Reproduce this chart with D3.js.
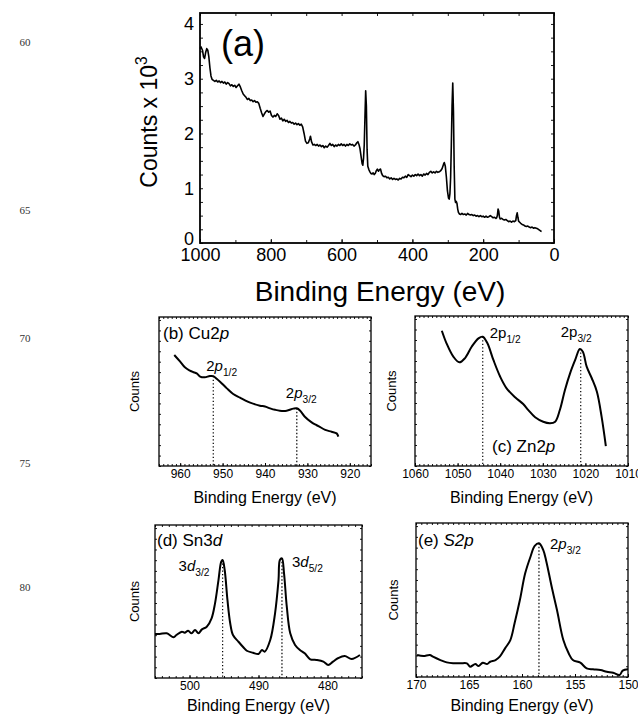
<!DOCTYPE html>
<html>
<head>
<meta charset="utf-8">
<script src="https://cdn.jsdelivr.net/npm/d3@7"></script>
<style>
  body { margin: 0; background: #fff; }
  svg { display: block; }
  text { font-family: "Liberation Sans", Arial, Helvetica, sans-serif; fill: #000; }
  .ln { font-family: "Liberation Serif", "Times New Roman", serif; fill: #333; }
</style>
</head>
<body>
<svg id="fig" width="638" height="718"></svg>
<script>
// ---- (a) survey spectrum: [binding energy (eV), counts x 10^3] ----
const surveyData = [
  [1000,3.55],[997,3.58],[993,3.52],[990,3.40],[987,3.37],[984,3.48],[981,3.55],[978,3.52],[975,3.40],
  [972,3.20],[969,3.05],[966,2.99],[962,2.97],[958,2.95],[954,2.97],[950,2.94],[946,2.96],[942,2.93],
  [938,2.95],[934,2.92],[930,2.94],[926,2.90],[922,2.93],[918,2.91],[914,2.87],[910,2.89],[906,2.86],
  [902,2.88],[898,2.84],[894,2.87],[890,2.90],[886,2.85],[882,2.78],[878,2.72],[874,2.69],[870,2.66],
  [866,2.62],[862,2.64],[858,2.60],[854,2.61],[850,2.58],[846,2.60],[842,2.57],[838,2.58],[834,2.55],
  [830,2.46],[826,2.38],[822,2.31],[818,2.36],[814,2.40],[810,2.42],[806,2.39],[802,2.41],[798,2.33],
  [794,2.30],[790,2.33],[786,2.31],[782,2.36],[778,2.33],[774,2.26],[770,2.28],[766,2.23],[762,2.26],
  [758,2.22],[754,2.24],[750,2.20],[746,2.22],[742,2.19],[738,2.20],[734,2.17],[730,2.19],[726,2.16],
  [722,2.18],[718,2.15],[714,2.17],[710,2.12],[706,2.00],[702,1.86],[698,1.82],[694,1.83],[690,1.90],
  [688,1.95],[685,1.85],[681,1.79],[677,1.80],[673,1.78],[669,1.80],[665,1.77],[661,1.79],[657,1.76],
  [653,1.78],[649,1.74],[645,1.77],[641,1.75],[637,1.78],[633,1.82],[629,1.78],[625,1.80],[621,1.76],
  [617,1.79],[613,1.77],[609,1.80],[605,1.78],[601,1.81],[597,1.78],[593,1.80],[589,1.77],[585,1.80],
  [581,1.78],[577,1.81],[573,1.79],[569,1.80],[565,1.77],[561,1.79],[557,1.83],[554,1.85],[551,1.80],
  [548,1.72],[545,1.58],[542,1.45],[540,1.42],[538,1.55],[536,1.80],[534,2.30],[532,2.78],[530,2.50],
  [528,1.70],[526,1.40],[523,1.34],[520,1.30],[517,1.27],[514,1.26],[511,1.28],[508,1.25],[505,1.27],
  [502,1.32],[499,1.35],[496,1.31],[493,1.34],[490,1.35],[487,1.27],[484,1.23],[480,1.21],[476,1.22],
  [472,1.19],[468,1.20],[464,1.17],[460,1.19],[456,1.16],[452,1.18],[448,1.16],[444,1.17],[440,1.15],
  [436,1.18],[432,1.17],[428,1.20],[424,1.19],[420,1.22],[416,1.20],[412,1.25],[408,1.23],[404,1.21],
  [400,1.24],[396,1.22],[392,1.25],[388,1.23],[384,1.26],[380,1.23],[376,1.25],[372,1.22],[368,1.26],
  [364,1.24],[360,1.27],[356,1.25],[352,1.29],[348,1.31],[344,1.28],[340,1.30],[336,1.28],[332,1.31],
  [328,1.29],[324,1.30],[320,1.32],[316,1.36],[312,1.44],[310,1.47],[307,1.40],[304,1.20],[301,0.95],
  [298,0.82],[296,0.80],[294,0.90],[292,1.20],[290,1.80],[288,2.50],[286,2.92],[284,2.40],[282,1.40],
  [280,0.80],[278,0.74],[276,0.76],[274,0.72],[272,0.62],[270,0.56],[267,0.53],[264,0.52],[260,0.54],
  [256,0.52],[252,0.53],[248,0.51],[244,0.54],[240,0.52],[236,0.51],[232,0.52],[228,0.50],[224,0.51],
  [220,0.49],[216,0.50],[212,0.48],[208,0.50],[204,0.48],[200,0.49],[196,0.47],[192,0.49],[188,0.47],
  [184,0.48],[180,0.50],[176,0.48],[172,0.46],[168,0.47],[164,0.45],[162,0.46],[160,0.50],[158,0.62],
  [156,0.58],[154,0.47],[152,0.44],[148,0.45],[144,0.43],[140,0.42],[136,0.43],[132,0.41],[128,0.39],
  [124,0.40],[120,0.38],[116,0.40],[112,0.39],[108,0.41],[106,0.50],[104,0.55],[102,0.47],[100,0.40],
  [97,0.38],[94,0.36],[90,0.34],[86,0.33],[82,0.31],[78,0.30],[74,0.31],[70,0.29],[66,0.28],[62,0.29],
  [58,0.27],[54,0.28],[50,0.27],[46,0.26],[42,0.24],[38,0.22],[35,0.21]
];
const surveyXTicks = [1000, 800, 600, 400, 200, 0];
const surveyYTicks = [0, 1, 2, 3, 4];

// ---- (b) Cu 2p: [binding energy (eV), counts (arb.)] ----
const cuData = [
  [961.4,74.5],[960.0,70.0],[958.9,66.2],[957.7,64.0],[957.0,63.1],[956.1,62.2],[955.3,60.0],[954.2,59.5],
  [953.0,60.4],[952.2,60.3],[951.4,58.6],[950.6,56.6],[949.0,52.1],[947.5,48.3],[945.9,45.9],[944.7,44.1],
  [943.5,42.5],[941.2,40.5],[940.0,39.9],[938.8,38.7],[937.6,37.7],[936.5,37.1],[934.9,37.1],[933.3,38.5],
  [932.5,38.7],[931.7,37.1],[930.6,33.1],[929.0,29.3],[928.2,27.9],[927.4,26.8],[925.8,24.2],[924.3,23.0],
  [923.1,21.9],[922.7,19.7]
];
const cuXTicks = [960, 950, 940, 930, 920];
const cuPeaks = [
  { be: 952.2, counts: 60.3, base: "2p", sub: "1/2" },
  { be: 932.5, counts: 38.7, base: "2p", sub: "3/2" }
];

// ---- (c) Zn 2p ----
const znData = [
  [1053.7,90.2],[1052.6,81.8],[1051.0,72.9],[1049.6,69.1],[1048.3,71.8],[1046.7,79.5],[1045.1,85.1],
  [1044.1,86.2],[1043.0,81.8],[1041.6,70.7],[1040.0,59.5],[1038.5,51.8],[1036.5,45.8],[1034.6,41.3],
  [1033.4,37.3],[1031.8,32.5],[1029.9,29.5],[1028.3,28.5],[1027.1,29.5],[1026.0,37.3],[1024.8,50.7],
  [1023.6,61.8],[1022.4,70.7],[1021.3,78.0],[1020.6,76.2],[1019.7,66.2],[1018.5,58.5],[1017.3,49.5],
  [1016.2,32.9],[1015.2,13.3]
];
const znXTicks = [1060, 1050, 1040, 1030, 1020, 1010];
const znPeaks = [
  { be: 1044.1, counts: 86.2, base: "2p", sub: "1/2" },
  { be: 1021.1, counts: 78.0, base: "2p", sub: "3/2" }
];

// ---- (d) Sn 3d ----
const snData = [
  [505.0,28.8],[504.3,28.8],[503.3,29.2],[502.3,26.6],[501.9,28.1],[501.1,30.3],[500.7,29.6],[500.2,30.9],
  [499.7,29.2],[499.2,31.4],[498.7,29.2],[498.2,31.8],[497.5,33.5],[496.8,39.0],[496.3,48.8],[495.8,64.0],
  [495.4,76.0],[495.2,77.1],[494.9,70.6],[494.5,51.0],[494.1,35.8],[493.7,28.1],[492.9,23.7],[492.2,20.1],
  [491.7,17.8],[490.8,16.5],[490.0,15.7],[489.5,18.3],[489.1,17.2],[488.3,24.8],[487.6,42.3],[487.1,64.0],
  [486.9,77.1],[486.6,78.2],[486.3,68.4],[485.9,46.6],[485.4,29.2],[484.7,21.6],[484.0,18.3],[483.3,16.1],
  [482.5,12.2],[481.6,11.8],[480.6,10.7],[479.9,8.5],[479.2,10.7],[478.5,12.9],[477.5,14.4],[476.5,12.4],
  [475.3,15.0]
];
const snXTicks = [500, 490, 480];
const snPeaks = [
  { be: 495.2, counts: 77.1, base: "3d", sub: "3/2" },
  { be: 486.6, counts: 78.2, base: "3d", sub: "5/2" }
];

// ---- (e) S 2p ----
const sData = [
  [169.9,14.3],[169.3,13.6],[168.7,14.3],[168.4,13.2],[167.7,11.0],[167.1,9.5],[166.5,8.9],[165.8,8.9],
  [165.2,8.9],[164.9,6.7],[164.4,8.4],[164.1,7.1],[163.7,9.3],[163.3,8.4],[163.0,9.9],[162.5,11.0],
  [162.1,13.2],[161.6,18.6],[161.1,24.0],[160.7,34.9],[160.2,50.0],[159.7,67.3],[159.2,78.1],[158.8,85.1],
  [158.4,86.8],[158.0,82.5],[157.7,74.9],[157.2,58.6],[156.7,43.5],[156.1,24.0],[155.6,15.4],[155.2,11.0],
  [154.5,9.3],[153.9,5.6],[153.3,5.0],[152.6,4.5],[152.0,3.4],[151.4,2.8],[150.8,1.3],[150.5,4.1],[150.0,5.0]
];
const sXTicks = [170, 165, 160, 155, 150];
const sPeaks = [
  { be: 158.4, counts: 86.8, base: "2p", sub: "3/2" }
];

// manuscript line numbers in the margin
const lineNumbers = ["60", "65", "70", "75", "80"];

const svg = d3.select("#fig");
const FONT = "Liberation Sans, Arial, Helvetica, sans-serif";

// text made of plain / italic / subscript / superscript runs
function richText(g, x, y, runs, size, anchor) {
  const t = g.append("text").attr("x", x).attr("y", y)
    .attr("font-size", size).attr("text-anchor", anchor || "start");
  let shift = 0;
  runs.forEach(r => {
    const s = t.append("tspan").text(r.t);
    if (r.i) s.attr("font-style", "italic");
    let target = 0;
    if (r.sub) { s.attr("font-size", size * 0.68); target = size * 0.32; }
    if (r.sup) { s.attr("font-size", size * 0.68); target = -size * 0.45; }
    if (target !== shift) { s.attr("dy", target - shift); shift = target; }
  });
  return t;
}

// inward ticks on all four sides of a frame
function frameTicks(g, x, y, box, xStep, yStep, len, xLabels, labelSize, labelPad) {
  const [xa, xb] = x.domain();
  const lo = Math.min(xa, xb), hi = Math.max(xa, xb);
  const xs = d3.range(Math.ceil(lo / xStep) * xStep, hi + 1e-9, xStep);
  const [ya, yb] = y.domain();
  const ys = d3.range(Math.ceil(ya / yStep) * yStep, yb + 1e-9, yStep);

  const bottom = d3.axisBottom(x).tickValues(xs).tickSize(-len).tickFormat("");
  const top = d3.axisTop(x).tickValues(xs).tickSize(-len).tickFormat("");
  const left = d3.axisLeft(y).tickValues(ys).tickSize(-len).tickFormat("");
  const right = d3.axisRight(y).tickValues(ys).tickSize(-len).tickFormat("");

  [[bottom, `translate(0,${box.bottom})`], [top, `translate(0,${box.top})`],
   [left, `translate(${box.left},0)`], [right, `translate(${box.right},0)`]].forEach(([ax, tr]) => {
    const a = g.append("g").attr("transform", tr).call(ax);
    a.select(".domain").remove();
    a.selectAll("line").attr("stroke", "#000").attr("stroke-width", 0.9);
  });

  // labelled ticks
  const lab = g.append("g").attr("transform", `translate(0,${box.bottom})`)
    .call(d3.axisBottom(x).tickValues(xLabels).tickSize(-len - 1).tickPadding(labelPad).tickFormat(d3.format("d")));
  lab.select(".domain").remove();
  lab.selectAll("line").attr("stroke", "#000").attr("stroke-width", 1);
  lab.selectAll("text").attr("font-size", labelSize).attr("font-family", FONT).attr("fill", "#000");
}

// ---------------- panel (a) ----------------
(function () {
  const box = { left: 200, right: 554, top: 13, bottom: 243 };
  const x = d3.scaleLinear().domain([1000, 0]).range([box.left, box.right]);
  const y = d3.scaleLinear().domain([0, 4.2]).range([box.bottom, box.top]);
  const g = svg.append("g");

  frameTicks(g, x, y, box, 100, 0.25, 3, surveyXTicks, 18, 5);

  const yl = g.append("g").attr("transform", `translate(${box.left},0)`)
    .call(d3.axisLeft(y).tickValues(surveyYTicks).tickSize(0).tickPadding(6).tickFormat(d3.format("d")));
  yl.select(".domain").remove();
  yl.selectAll("text").attr("font-size", 18).attr("font-family", FONT).attr("fill", "#000");
  // the zero label sits just above the energy labels
  yl.selectAll(".tick").filter(d => d === 0).select("text").attr("dy", "0.1em");

  g.append("path").datum(surveyData)
    .attr("fill", "none").attr("stroke", "#000").attr("stroke-width", 1.6).attr("stroke-linejoin", "round")
    .attr("d", d3.line().x(d => x(d[0])).y(d => y(d[1])));

  g.append("rect").attr("x", box.left).attr("y", box.top)
    .attr("width", box.right - box.left).attr("height", box.bottom - box.top)
    .attr("fill", "none").attr("stroke", "#000").attr("stroke-width", 1.8);

  richText(g, 221, 56, [{ t: "(a)" }], 36);
  richText(g, 380, 301, [{ t: "Binding Energy (eV)" }], 28, "middle");
  const yt = g.append("g").attr("transform", "translate(157,122) rotate(-90)");
  richText(yt, 0, 0, [{ t: "Counts x 10" }, { t: "3", sup: true }], 23, "middle");
})();

// ---------------- small detail panels ----------------
function detailPanel(cfg) {
  const box = cfg.box;
  const x = d3.scaleLinear().domain(cfg.xDomain).range([box.left, box.right]);
  const y = d3.scaleLinear().domain([0, 100]).range([box.bottom, box.top]);
  const g = svg.append("g");

  frameTicks(g, x, y, box, cfg.minor, 7, 2, cfg.xTicks, 12, 3);

  // dotted guides from each peak down to the axis
  cfg.peaks.forEach(p => {
    g.append("line")
      .attr("x1", x(p.be)).attr("x2", x(p.be))
      .attr("y1", y(p.counts)).attr("y2", box.bottom)
      .attr("stroke", "#000").attr("stroke-width", 1.2).attr("stroke-dasharray", "1.3,2.2");
  });

  g.append("path").datum(cfg.data)
    .attr("fill", "none").attr("stroke", "#000").attr("stroke-width", 2).attr("stroke-linejoin", "round")
    .attr("d", d3.line().curve(d3.curveCatmullRom.alpha(0.5)).x(d => x(d[0])).y(d => y(d[1])));

  g.append("rect").attr("x", box.left).attr("y", box.top)
    .attr("width", box.right - box.left).attr("height", box.bottom - box.top)
    .attr("fill", "none").attr("stroke", "#000").attr("stroke-width", 1.3);

  // peak labels
  cfg.peaks.forEach((p, i) => {
    const o = cfg.peakLabelOffsets[i];
    richText(g, x(p.be) + o[0], y(p.counts) + o[1],
      [{ t: p.base[0] }, { t: p.base.slice(1), i: cfg.italicOrbital }, { t: p.sub, sub: true }], 15, o[2]);
  });

  richText(g, cfg.title.x, cfg.title.y, cfg.title.runs, 17);
  richText(g, (box.left + box.right) / 2, cfg.xTitleY, [{ t: "Binding Energy (eV)" }], 16, "middle");
  const yt = g.append("g").attr("transform", `translate(${cfg.yTitleX},${(box.top + box.bottom) / 2}) rotate(-90)`);
  richText(yt, 0, 0, [{ t: "Counts" }], 13, "middle");
}

detailPanel({
  box: { left: 159, right: 371, top: 317, bottom: 466 },
  xDomain: [965, 915], xTicks: cuXTicks, minor: 1, data: cuData, peaks: cuPeaks,
  italicOrbital: true, peakLabelOffsets: [[-7, -5, "start"], [-11, -10, "start"]],
  title: { x: 163, y: 339, runs: [{ t: "(b) Cu2" }, { t: "p", i: true }] },
  xTitleY: 503, yTitleX: 139
});

detailPanel({
  box: { left: 415, right: 628, top: 316, bottom: 466 },
  xDomain: [1060, 1010], xTicks: znXTicks, minor: 1, data: znData, peaks: znPeaks,
  italicOrbital: false, peakLabelOffsets: [[7, 1, "start"], [-20, -12, "start"]],
  title: { x: 492, y: 452, runs: [{ t: "(c) Zn2" }, { t: "p", i: true }] },
  xTitleY: 503, yTitleX: 396
});

detailPanel({
  box: { left: 155, right: 362, top: 525, bottom: 678 },
  xDomain: [505, 475], xTicks: snXTicks, minor: 1, data: snData, peaks: snPeaks,
  italicOrbital: true, peakLabelOffsets: [[-44, 11, "start"], [10, 9, "start"]],
  title: { x: 157, y: 546, runs: [{ t: "(d) Sn3" }, { t: "d", i: true }] },
  xTitleY: 711, yTitleX: 139
});

detailPanel({
  box: { left: 416, right: 628, top: 523, bottom: 677 },
  xDomain: [170, 150], xTicks: sXTicks, minor: 0.5, data: sData, peaks: sPeaks,
  italicOrbital: true, peakLabelOffsets: [[11, 6, "start"]],
  title: { x: 418, y: 546, runs: [{ t: "(e) " }, { t: "S2p", i: true }] },
  xTitleY: 711, yTitleX: 398
});

// margin line numbers
const lineY = [46, 214, 342, 467, 591];
svg.append("g").selectAll("text").data(lineNumbers).join("text")
  .attr("class", "ln").attr("x", 25).attr("y", (d, i) => lineY[i])
  .attr("text-anchor", "middle").attr("font-size", 11).text(d => d);
</script>
</body>
</html>
